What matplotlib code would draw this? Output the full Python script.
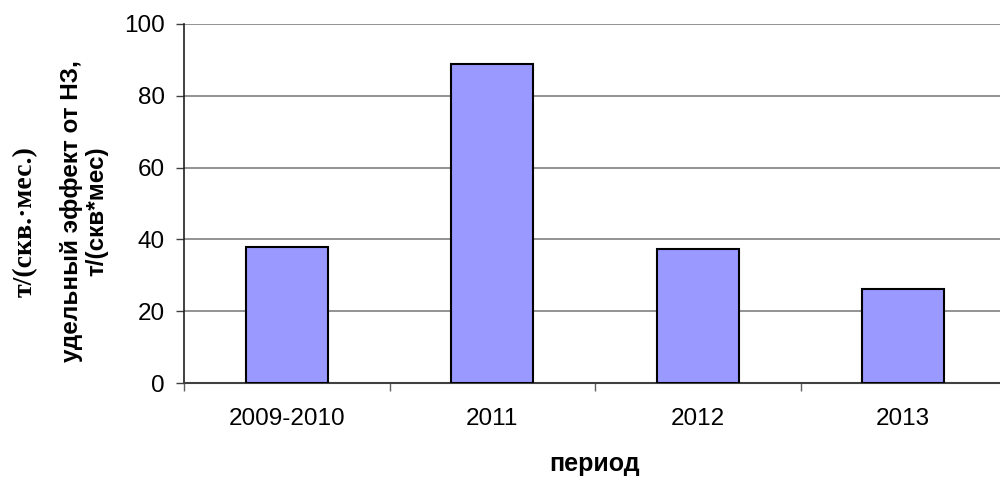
import matplotlib
matplotlib.use('Agg')
import matplotlib.pyplot as plt
import numpy as np

periods = ['2009-2010', '2011', '2012', '2013']
effect = [37.9, 88.9, 37.3, 26.2]

plt.rcParams['font.family'] = ['Liberation Sans', 'DejaVu Sans']

fig = plt.figure(figsize=(10, 4.8), dpi=100)
ax = fig.add_axes([0.184, 0.202, 0.822, 0.748])

x = np.arange(len(periods))
ax.bar(x, effect, width=0.4, color='#9999ff', edgecolor='black', linewidth=1.5,
       zorder=3)

ax.set_xlim(-0.5, len(periods) - 0.5)
ax.set_ylim(0, 100)
ax.set_yticks(np.arange(0, 101, 20))
ax.grid(axis='y', color='#808080', linewidth=1.2, zorder=0)

# category boundaries get the tick marks, labels sit at the centres
ax.set_xticks(np.arange(-0.5, len(periods), 1.0))
ax.set_xticklabels([])
ax.set_xticks(x, minor=True)
ax.set_xticklabels(periods, minor=True)
ax.tick_params(axis='x', which='major', direction='out', length=6,
               color='#606060', width=1)
ax.tick_params(axis='x', which='minor', length=0, pad=18, labelsize=17.5)
ax.tick_params(axis='y', direction='out', length=6, color='#404040', width=1,
               labelsize=17.5, pad=8)

for side in ['top', 'right']:
    ax.spines[side].set_visible(False)
ax.spines['left'].set_color('#202020')
ax.spines['left'].set_linewidth(1.2)
ax.spines['bottom'].set_color('#404040')
ax.spines['bottom'].set_linewidth(1.5)

ax.set_ylabel('удельный эффект от НЗ,\nт/(скв*мес)', fontsize=17.5,
              fontweight='bold', linespacing=1.15)
ax.yaxis.set_label_coords(-0.092, 0.48)
ax.set_xlabel('период', fontsize=18, fontweight='bold', labelpad=16)

fig.text(0.025, 0.5375, 'т/(скв.·мес.)', rotation=90, ha='center', va='center',
         fontsize=20, fontweight='bold', family=['Liberation Serif', 'DejaVu Serif'])

fig.savefig('out.png', dpi=100)
